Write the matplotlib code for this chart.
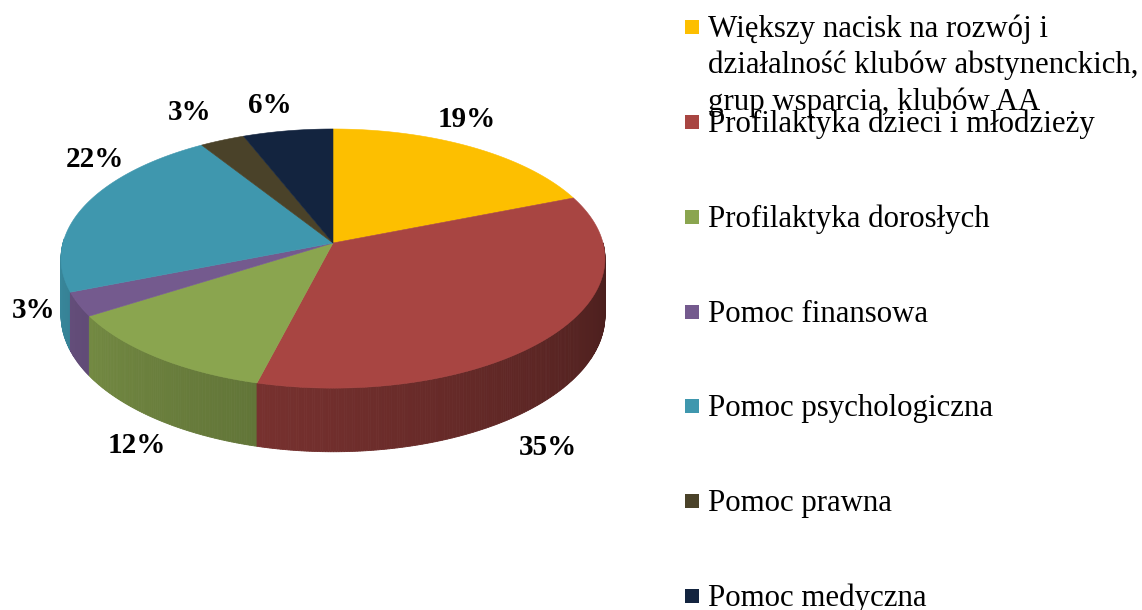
import numpy as np
import matplotlib
matplotlib.use("Agg")
import matplotlib.pyplot as plt
from matplotlib.patches import Polygon, Rectangle
from matplotlib.colors import to_rgb

# ---- data ----
categories = [
    "Większy nacisk na rozwój i\ndziałalność klubów abstynenckich,\ngrup wsparcia, klubów AA",
    "Profilaktyka dzieci i młodzieży",
    "Profilaktyka dorosłych",
    "Pomoc finansowa",
    "Pomoc psychologiczna",
    "Pomoc prawna",
    "Pomoc medyczna",
]
values = [19, 35, 12, 3, 22, 3, 6]
pct_labels = ["19%", "35%", "12%", "3%", "22%", "3%", "6%"]

# ---- style / layout ----
colors = ["#FDBF00", "#A84542", "#8AA54F", "#745A8E", "#3F97AE", "#4A4229", "#13243F"]
label_xy = [(467, 117), (548, 445), (137, 443), (34, 308), (95, 157), (190, 110), (270, 103)]

W, H = 1142, 610
CX, CY = 333, 243        # apex (pie centre) in pixels
A, B = 270, 127.7        # horizontal / vertical radii
P = 0.12                 # perspective factor
DEPTH = 56               # thickness

SERIF = ["Liberation Serif", "DejaVu Serif"]

fig = plt.figure(figsize=(W / 100, H / 100), dpi=100)
ax = fig.add_axes([0, 0, 1, 1])
ax.set_xlim(0, W)
ax.set_ylim(H, 0)
ax.axis("off")


def proj(theta_deg, r=1.0, down=0.0):
    t = np.radians(theta_deg)
    X = r * np.cos(t)
    Z = r * np.sin(t)
    s = 1.0 + P * Z
    return CX + A * X / s, CY - B * Z / s + down / s


def shade(c, f):
    r, g, b = to_rgb(c)
    return (r * f, g * f, b * f)


total = float(sum(values))
bounds = [90 - 360 * sum(values[:i]) / total for i in range(len(values) + 1)]

# ---- side walls (strips), drawn far to near ----
strips = []
for i, v in enumerate(values):
    a0, a1 = bounds[i], bounds[i + 1]   # a0 > a1 (clockwise)
    n = max(int((a0 - a1) / 0.5), 1)
    ts = np.linspace(a0, a1, n + 1)
    for k in range(n):
        t1, t2 = ts[k], ts[k + 1]
        tm = ((t1 + t2) / 2) % 360
        if not (178 <= tm <= 362):
            continue
        f = 0.92 - (tm - 180) / 180 * 0.5
        xa, ya = proj(t1)
        xb, yb = proj(t2)
        xc, yc = proj(t2, down=DEPTH)
        xd, yd = proj(t1, down=DEPTH)
        z = np.sin(np.radians(tm))
        strips.append((z, [(xa, ya), (xb, yb), (xc, yc), (xd, yd)], shade(colors[i], f)))

strips.sort(key=lambda s: -s[0])
for z, pts, col in strips:
    ax.add_patch(Polygon(pts, closed=True, facecolor=col, edgecolor=col, lw=0.6))

# ---- top faces ----
for i, v in enumerate(values):
    a0, a1 = bounds[i], bounds[i + 1]
    ts = np.linspace(a0, a1, max(int((a0 - a1) * 2), 2))
    xs, ys = proj(ts)
    pts = [(CX, CY)] + list(zip(xs, ys))
    ax.add_patch(Polygon(pts, closed=True, facecolor=colors[i], edgecolor=colors[i], lw=0.4))

# ---- percentage labels ----
for (x, y), lab in zip(label_xy, pct_labels):
    ax.text(x, y + 10, lab, ha="center", va="baseline", fontsize=21,
            fontweight="bold", family=SERIF, color="black")

# ---- legend ----
LX, TX = 692, 708
LFS = 22.2
first_lines = categories[0].split("\n")
for j, line in enumerate(first_lines):
    ax.text(TX, 37 + j * 36.5, line, ha="left", va="baseline", fontsize=LFS,
            family=SERIF, color="black")
ax.add_patch(Rectangle((LX - 7, 27 - 7), 14, 14, facecolor=colors[0], edgecolor="none"))
for i in range(1, len(categories)):
    yc = 122 + (i - 1) * 94.8
    ax.add_patch(Rectangle((LX - 7, yc - 7), 14, 14, facecolor=colors[i], edgecolor="none"))
    ax.text(TX, yc + 10, categories[i], ha="left", va="baseline", fontsize=LFS,
            family=SERIF, color="black")

fig.savefig("out.png", dpi=100, facecolor="white")
